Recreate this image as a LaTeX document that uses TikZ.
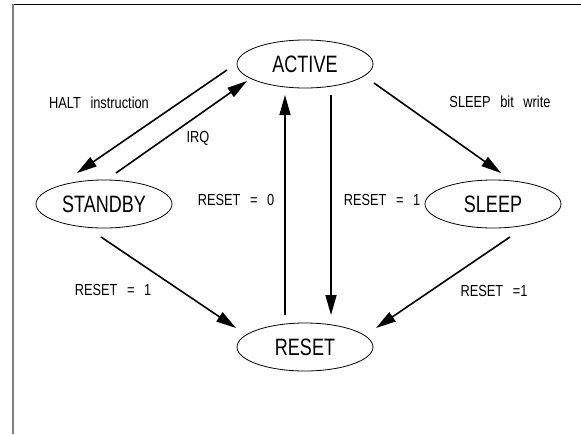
\documentclass[tikz,border=0pt]{standalone}
\usepackage{fontspec}
\usepackage{graphicx}
\setmainfont{Liberation Sans}
\usetikzlibrary{shapes.geometric,arrows.meta,calc}
\newcommand\bigtxt[1]{\scalebox{0.76}[1]{\fontsize{23.7}{26}\selectfont #1}}
\newcommand\smalltxt[1]{\scalebox{0.8}[1]{\fontsize{16}{18}\selectfont\spaceskip=12pt #1}}
\tikzset{
  state/.style={ellipse,draw,line width=0.8pt,minimum width=136pt,minimum height=48pt,inner sep=0pt},
  arr/.style={line width=1.6pt,-{Triangle[length=20pt,width=11pt]}},
  lbl/.style={inner sep=0pt}
}
\begin{document}
\begin{tikzpicture}[x=1pt,y=-1pt]
\useasboundingbox (0,0) rectangle (581,434);
\fill[white] (0,0) rectangle (581,434);
% frame
\draw[line width=1.2pt] (12,4.6) -- (581,4.6);
\draw[line width=1.8pt,gray] (12.8,4) -- (12.8,434);
% states
\node[state] (active) at (305,64) {\bigtxt{ACTIVE}};
\node[state] (standby) at (104,204) {\bigtxt{STANDBY}};
\node[state] (sleep) at (493,204) {\bigtxt{SLEEP}};
\node[state] (reset) at (305,347) {\bigtxt{RESET}};
% transitions
\draw[arr] ($(active)+(-78,6)$) -- ($(standby)+(-27,-31)$);
\draw[arr] ($(standby)+(12,-31)$) -- ($(active)+(-58,17)$);
\draw[arr] ($(active)+(69,19)$) -- ($(sleep)+(8,-31)$);
\draw[arr] ($(reset)+(-20,-32)$) -- ($(active)+(-20,31)$);
\draw[arr] ($(active)+(26,31)$) -- ($(reset)+(26,-32)$);
\draw[arr] ($(standby)+(-3,33)$) -- ($(reset)+(-69,-19)$);
\draw[arr] ($(sleep)+(17,33)$) -- ($(reset)+(71,-19)$);
% labels
\node[lbl] (lhalt) at (99,103) {\smalltxt{HALT instruction}};
\node[lbl] (lirq) at (198,138) {\smalltxt{IRQ}};
\node[lbl] (lsleep) at (500,102) {\smalltxt{SLEEP bit write}};
\node[lbl] (lr0) at (236,200) {\smalltxt{RESET = 0}};
\node[lbl] (lr1m) at (382,200) {\smalltxt{RESET = 1}};
\node[lbl] (lr1l) at (113,290) {\smalltxt{RESET = 1}};
\node[lbl] (lr1r) at (494,291) {\smalltxt{RESET =1}};
\end{tikzpicture}
\end{document}
